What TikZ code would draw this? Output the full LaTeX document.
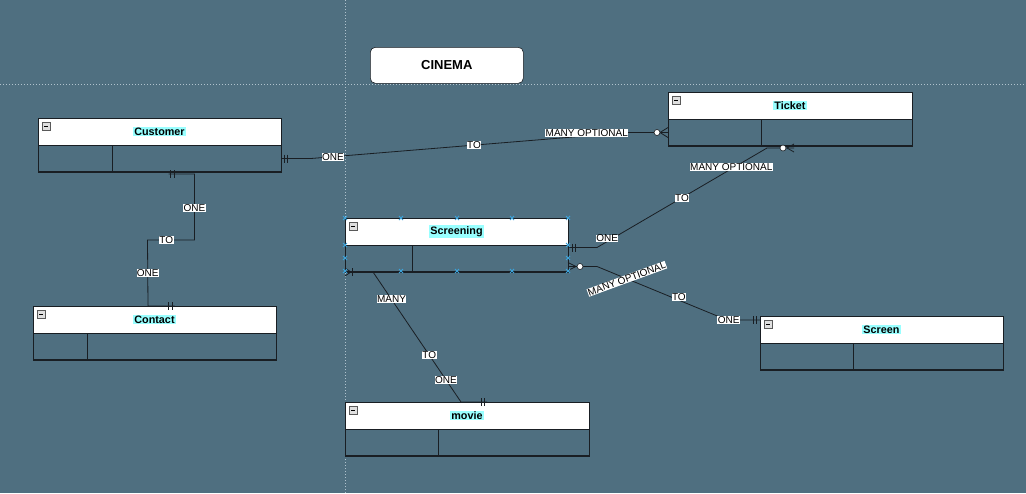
\documentclass[tikz,border=0pt]{standalone}
\usepackage{fontspec}
\setmainfont{Liberation Sans}
\usepackage{xcolor}
\usetikzlibrary{arrows,shapes,positioning,calc}
\definecolor{bgblue}{RGB}{79,111,128}
\definecolor{guide}{RGB}{176,194,205}
\definecolor{hl}{RGB}{153,255,255}
\definecolor{handle}{RGB}{59,163,219}
\definecolor{edgecol}{RGB}{25,30,35}
\newcommand{\entname}[1]{\colorbox{hl}{#1}}
\setlength{\fboxsep}{1pt}

\begin{document}
\begin{tikzpicture}[x=1pt,y=-1pt,semithick]

\tikzstyle{entity}=[rectangle, draw=edgecol, fill=white, minimum width=243pt, minimum height=27pt,
inner sep=0pt, outer sep=0pt, text=black, font=\fontsize{10.8}{12}\selectfont\bfseries]
\tikzstyle{attrs}=[rectangle, draw=edgecol, minimum width=243pt, minimum height=27pt, inner sep=0pt, outer sep=0pt]
\tikzstyle{lab}=[fill=white, inner sep=0.4pt, text=black, font=\fontsize{10}{11}\selectfont]
\tikzstyle{conn}=[draw=edgecol, line width=0.8pt]
\tikzstyle{ring}=[draw=edgecol, fill=white, line width=0.6pt]

\useasboundingbox (0,0) rectangle (1026,493);
\fill[bgblue] (0,0) rectangle (1026,493);

%guides
\draw[guide, dotted, line width=1pt] (345,0) -- (345,493);
\draw[guide, dotted, line width=1pt] (0,84) -- (1026,84);

\node[draw=edgecol, fill=white, rounded corners=5pt, minimum width=153pt, minimum height=36pt,
anchor=north west, font=\fontsize{13}{14}\selectfont\bfseries]
(title) at (370,47)
{CINEMA};

%entities
\node[entity, anchor=north west]
(cust) at (38,118)
{\entname{Customer}};
\node[attrs, below=0pt of cust] (custb) {};

\node[entity, anchor=north west, minimum width=244pt]
(tick) at (668,92)
{\entname{Ticket}};
\node[attrs, below=0pt of tick, minimum width=244pt] (tickb) {};

\node[entity, anchor=north west, minimum width=223pt]
(scr) at (345,218)
{\entname{Screening}};
\node[attrs, below=0pt of scr, minimum width=223pt] (scrb) {};

\node[entity, anchor=north west]
(cont) at (33,306)
{\entname{Contact}};
\node[attrs, below=0pt of cont] (contb) {};

\node[entity, anchor=north west]
(scrn) at (760,316)
{\entname{Screen}};
\node[attrs, below=0pt of scrn] (scrnb) {};

\node[entity, anchor=north west, minimum width=244pt]
(mov) at (345,402)
{\entname{movie}};
\node[attrs, below=0pt of mov, minimum width=244pt] (movb) {};

\foreach \e/\d in {cust/74,tick/93,scr/67,cont/54,scrn/93,mov/93}{
  \draw[edgecol] ([xshift=\d pt]\e b.north west) -- ([xshift=\d pt]\e b.south west);
  \draw[edgecol, line width=1.6pt] (\e b.south west) -- (\e b.south east);
  \draw[fill=gray!25, draw=gray!70!black, line width=0.5pt] ([xshift=4pt,yshift=-4pt]\e.north west) rectangle ++(8,8);
  \draw[black, line width=1pt] ([xshift=6pt,yshift=-8pt]\e.north west) -- ++(4,0);
}

%Customer - Ticket
\draw[conn] (custb.east) -- ++(30,0)
  -- node[lab, pos=0.069] {ONE} node[lab, pos=0.514] {TO} node[lab, pos=0.87, yshift=3pt] {MANY OPTIONAL}
  ([xshift=-40pt]tickb.west) -- (tickb.west);
\draw[conn] ([xshift=3pt,yshift=4pt]custb.east) -- ++(0,8);
\draw[conn] ([xshift=6pt,yshift=4pt]custb.east) -- ++(0,8);
\draw[conn] ([xshift=-8pt]tickb.west) -- ([yshift=5pt]tickb.west)
  ([xshift=-8pt]tickb.west) -- ([yshift=-5pt]tickb.west);
\draw[ring] ([xshift=-11pt]tickb.west) circle (3pt);

%Customer - Contact
\draw[conn] ([xshift=9pt,yshift=-2pt]custb.south) -- ++(26,0)
  -- node[lab, pos=0.52] {ONE} ++(0,66)
  -- node[lab, pos=0.6] {TO} ++(-47,0)
  -- node[lab] {ONE} ([xshift=-6.5pt]cont.north) -- ([xshift=20pt]cont.north);
\draw[conn] ([xshift=11pt,yshift=2pt]custb.south) -- ++(0,8);
\draw[conn] ([xshift=14.5pt,yshift=2pt]custb.south) -- ++(0,8);
\draw[conn] ([xshift=14pt,yshift=4pt]cont.north) -- ++(0,8);
\draw[conn] ([xshift=17.5pt,yshift=4pt]cont.north) -- ++(0,8);

%Screening - Ticket
\draw[conn] ([yshift=11pt]scrb.east) -- ++(29,0)
  -- node[lab, pos=0.06, yshift=3pt] {ONE} node[lab, pos=0.5] {TO} node[lab, pos=0.79, yshift=2pt] {MANY OPTIONAL}
  ([xshift=-23pt,yshift=-2pt]tickb.south) -- ([xshift=4pt,yshift=-2pt]tickb.south);
\draw[conn] ([xshift=4pt,yshift=15pt]scrb.east) -- ++(0,8);
\draw[conn] ([xshift=7.5pt,yshift=15pt]scrb.east) -- ++(0,8);
\draw[conn] ([xshift=-3pt,yshift=-2pt]tickb.south) -- ([xshift=4pt,yshift=2pt]tickb.south)
  ([xshift=-3pt,yshift=-2pt]tickb.south) -- ([xshift=4pt,yshift=-6pt]tickb.south);
\draw[ring] ([xshift=-7pt,yshift=-2pt]tickb.south) circle (3pt);

%Screening - Screen
\draw[conn] ([yshift=-8pt]scrb.east) -- ++(29,0)
  -- node[lab, rotate=20, pos=0.23] {MANY OPTIONAL} node[lab, pos=0.63, yshift=3pt] {TO}
  ([xshift=-33pt,yshift=9.5pt]scrn.west)
  -- node[lab, pos=0.05] {ONE} ([yshift=9.5pt]scrn.west);
\draw[conn] ([xshift=8pt,yshift=-8pt]scrb.east) -- ([yshift=-4pt]scrb.east)
  ([xshift=8pt,yshift=-8pt]scrb.east) -- ([yshift=-12pt]scrb.east);
\draw[ring] ([xshift=12pt,yshift=-8pt]scrb.east) circle (3pt);
\draw[conn] ([xshift=-7pt,yshift=13.5pt]scrn.west) -- ++(0,8);
\draw[conn] ([xshift=-4pt,yshift=13.5pt]scrn.west) -- ++(0,8);

%Screening - movie
\draw[conn] (scrb.south west) -- ++(28,0)
  -- node[lab, pos=0.21] {MANY} node[lab, pos=0.64] {TO} node[lab, pos=0.83] {ONE}
  ([xshift=-6pt]mov.north) -- ([xshift=20pt]mov.north);
\draw[conn] ([xshift=6pt]scrb.south west) -- ([yshift=4pt]scrb.south west)
  ([xshift=6pt]scrb.south west) -- ([yshift=-4pt]scrb.south west);
\draw[conn] ([xshift=7pt,yshift=4pt]scrb.south west) -- ++(0,8);
\draw[conn] ([xshift=14pt,yshift=4pt]mov.north) -- ++(0,8);
\draw[conn] ([xshift=17pt,yshift=4pt]mov.north) -- ++(0,8);

%selection handles
\foreach \hx in {345,401,457,512,568}
  \foreach \hy in {218,271}
    \draw[handle, line width=1pt] (\hx-2,\hy-2) -- (\hx+2,\hy+2) (\hx-2,\hy+2) -- (\hx+2,\hy-2);
\foreach \hx in {345,568}
  \foreach \hy in {245,258}
    \draw[handle, line width=1pt] (\hx-2,\hy-2) -- (\hx+2,\hy+2) (\hx-2,\hy+2) -- (\hx+2,\hy-2);

\end{tikzpicture}
\end{document}
